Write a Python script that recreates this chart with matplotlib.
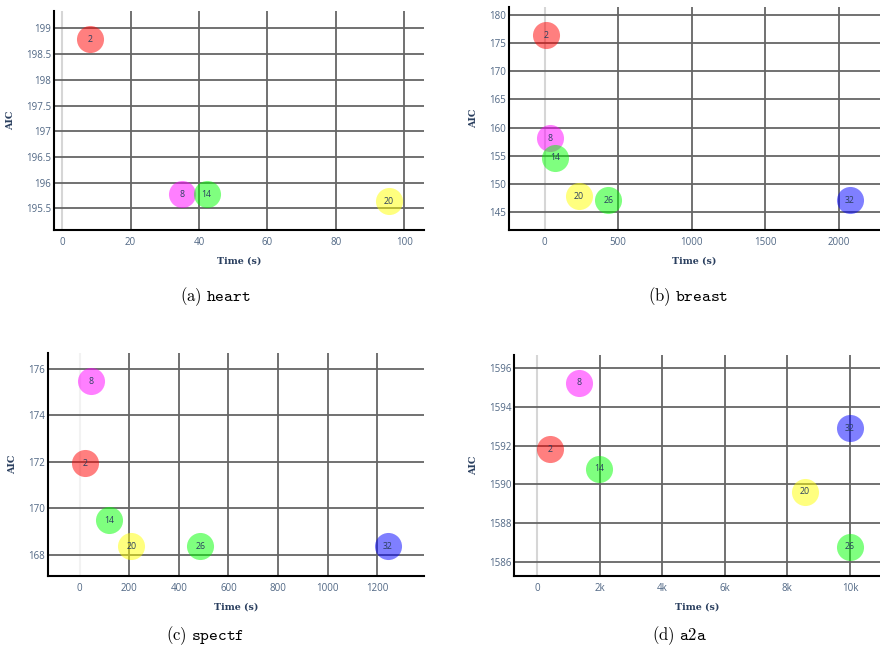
import matplotlib
matplotlib.use('Agg')
from matplotlib import pyplot as plt
from matplotlib.ticker import FuncFormatter

plt.rcParams['mathtext.fontset'] = 'cm'

# run labels (number of workers) shared by every panel
labels = [2, 8, 14, 20, 26, 32]
colors = {2: '#ff0000', 8: '#ff00ff', 14: '#00ff00', 20: '#ffff00',
          26: '#00ff00', 32: '#0000ff'}

heart_time = [8.1, 35.1, 42.2, 95.5]
heart_aic = [198.79, 195.78, 195.78, 195.64]

breast_time = [7, 36, 73, 234, 434, 2075]
breast_aic = [176.4, 158.1, 154.6, 147.8, 147.1, 147.1]

spectf_time = [20, 44, 120, 208, 486, 1244]
spectf_aic = [171.95, 175.48, 169.48, 168.36, 168.36, 168.36]

a2a_time = [425, 1330, 1990, 8565, 10000, 10000]
a2a_aic = [1591.8, 1595.26, 1590.8, 1589.6, 1586.76, 1592.89]

W, H = 880, 655
fig = plt.figure(figsize=(W / 100, H / 100), dpi=100)


def make_axes(left, right, top, bottom):
    return fig.add_axes([left / W, 1 - bottom / H, (right - left) / W, (bottom - top) / H])


def kfmt(v, pos):
    if v == 0:
        return '0'
    return '%gk' % (v / 1000)


panels = [
    (make_axes(54, 424, 11, 230), heart_time, heart_aic,
     (-2.4, 105.8), (195.08, 199.34), range(0, 101, 20), [195.5 + 0.5 * i for i in range(8)], None,
     r'$\mathrm{(a)}\ \mathtt{heart}$', (215, 297), '#d6d6d6'),
    (make_axes(509, 880, 7, 230), breast_time, breast_aic,
     (-243, 2282), (141.8, 181.4), range(0, 2001, 500), range(145, 181, 5), None,
     r'$\mathrm{(b)}\ \mathtt{breast}$', (688, 297), '#d6d6d6'),
    (make_axes(48, 424, 353, 576), spectf_time, spectf_aic,
     (-128, 1389), (167.09, 176.69), range(0, 1201, 200), range(168, 177, 2), None,
     r'$\mathrm{(c)}\ \mathtt{spectf}$', (205, 636), '#f2f2f2'),
    (make_axes(514, 880, 355, 576), a2a_time, a2a_aic,
     (-734, 10957), (1585.25, 1596.69), range(0, 10001, 2000), range(1586, 1597, 2), kfmt,
     r'$\mathrm{(d)}\ \mathtt{a2a}$', (679, 636), '#d6d6d6'),
]

for ax, t, aic, xl, yl, xt, yt, xf, caption, cpos, zc in panels:
    ax.set_xlim(*xl)
    ax.set_ylim(*yl)
    ax.set_xticks(list(xt))
    ax.set_yticks(list(yt))
    ax.yaxis.set_major_formatter(FuncFormatter(lambda v, p: '%g' % v))
    if xf:
        ax.xaxis.set_major_formatter(FuncFormatter(xf))
    else:
        ax.xaxis.set_major_formatter(FuncFormatter(lambda v, p: '%g' % v))

    # grid lines, with a light zero line like plotly
    for x in xt:
        if x == 0:
            ax.axvline(0, color=zc, lw=1.5, zorder=0)
        else:
            ax.axvline(x, color='#666666', lw=1.3, zorder=0)
    for y in yt:
        ax.axhline(y, color='#666666', lw=1.3, zorder=0)

    for s in ['top', 'right']:
        ax.spines[s].set_visible(False)
    for s in ['left', 'bottom']:
        ax.spines[s].set_linewidth(1.5)
        ax.spines[s].set_color('black')
    ax.tick_params(length=0, labelsize=7, labelcolor='#506784')
    ax.tick_params(axis='y', pad=2)
    ax.tick_params(axis='x', pad=5)
    for lab in ax.get_xticklabels() + ax.get_yticklabels():
        lab.set_family('Open Sans')

    for i in range(len(t)):
        n = labels[i]
        ax.scatter(t[i], aic[i], s=380, color=colors[n], alpha=0.5, lw=0, zorder=3)
        ax.text(t[i], aic[i], str(n), fontsize=6.3, color='#2a3f5f', family='Open Sans',
                ha='center', va='center', zorder=4)

    ax.set_xlabel('Time (s)', fontsize=6.8, fontweight='bold', family='DejaVu Serif',
                  color='#2a3f5f', labelpad=6)
    ax.set_ylabel('AIC', fontsize=6.8, fontweight='bold', family='DejaVu Serif',
                  color='#2a3f5f', labelpad=8)

    fig.text(cpos[0] / W, 1 - cpos[1] / H, caption, fontsize=12, ha='center', va='center')

fig.savefig('out.png', dpi=100)
